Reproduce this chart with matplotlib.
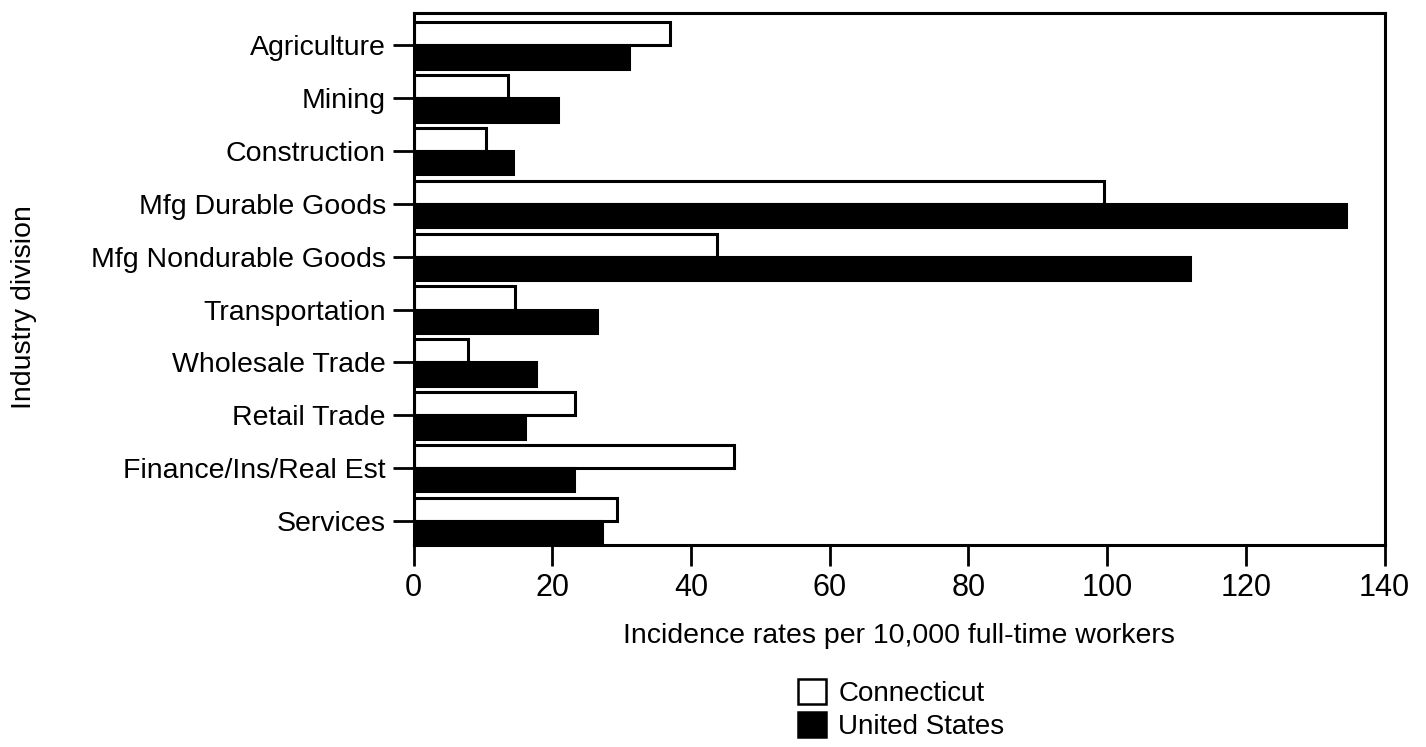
import matplotlib

matplotlib.use("Agg")
import matplotlib.pyplot as plt
import numpy as np
from matplotlib.patches import Patch

plt.rcParams["font.family"] = ["Liberation Sans", "DejaVu Sans"]

categories = [
    "Agriculture",
    "Mining",
    "Construction",
    "Mfg Durable Goods",
    "Mfg Nondurable Goods",
    "Transportation",
    "Wholesale Trade",
    "Retail Trade",
    "Finance/Ins/Real Est",
    "Services",
]
connecticut = [37.0, 13.6, 10.5, 99.5, 43.8, 14.6, 7.8, 23.3, 46.2, 29.4]
united_states = [31.0, 20.8, 14.4, 134.5, 112.0, 26.5, 17.7, 16.1, 23.2, 27.2]
x_ticks = [0, 20, 40, 60, 80, 100, 120, 140]

fig = plt.figure(figsize=(14.26, 7.47), dpi=100)
ax = fig.add_axes([0.29, 0.27, 0.681, 0.713])

y = np.arange(len(categories))
h = 0.44
ax.barh(y - h / 2, connecticut, height=h, color="white", edgecolor="black", linewidth=2.2)
ax.barh(y + h / 2, united_states, height=h, color="black", edgecolor="black", linewidth=2.2)

ax.set_ylim(len(categories) - 1 + h + 0.02, -0.62)
ax.set_xlim(0, 140)
ax.set_yticks(y)
ax.set_yticklabels(categories, fontsize=20.5)
ax.set_xticks(x_ticks)
ax.set_xticklabels([str(t) for t in x_ticks], fontsize=22)
ax.tick_params(axis="both", direction="out", length=15, width=2, color="black")
ax.tick_params(axis="y", pad=5)
ax.tick_params(axis="x", pad=5)
for s in ax.spines.values():
    s.set_linewidth(2.2)

ax.set_xlabel("Incidence rates per 10,000 full-time workers", fontsize=20.5, labelpad=14)
fig.text(0.017, 0.589, "Industry division", rotation=90, fontsize=20.5,
         va="center", ha="center")

handles = [
    Patch(facecolor="white", edgecolor="black", linewidth=1.8, label="Connecticut"),
    Patch(facecolor="black", edgecolor="black", linewidth=1.8, label="United States"),
]
fig.legend(handles=handles, loc="center left", bbox_to_anchor=(0.542, 0.05),
           frameon=False, fontsize=20, handlelength=1.0, handleheight=1.0,
           handletextpad=0.45, labelspacing=0.2)

fig.savefig("out.png", dpi=100)
